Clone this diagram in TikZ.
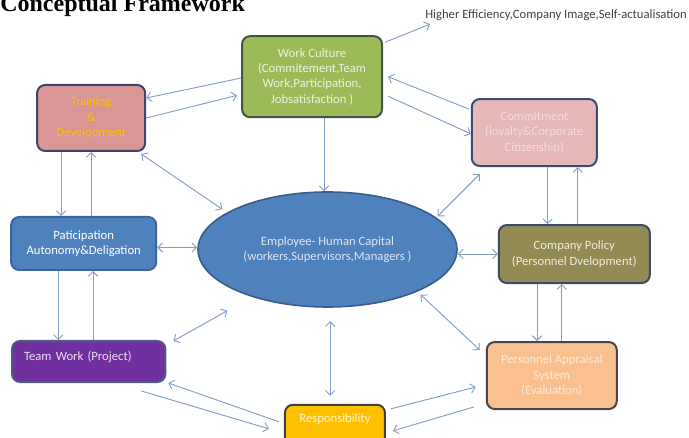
\documentclass[tikz,border=0pt]{standalone}
\usepackage{fontspec}
\setmainfont{Carlito}
\newfontfamily\headfont{Liberation Serif}
\usetikzlibrary{positioning,arrows.meta,shapes.geometric}

\definecolor{linkblue}{RGB}{128,158,200}
\definecolor{cultfill}{RGB}{155,187,89}
\definecolor{cultedge}{RGB}{66,86,62}
\definecolor{culttext}{RGB}{235,241,222}
\definecolor{trainfill}{RGB}{217,150,148}
\definecolor{trainedge}{RGB}{60,70,110}
\definecolor{traintext}{RGB}{255,192,0}
\definecolor{commitfill}{RGB}{230,185,184}
\definecolor{commitedge}{RGB}{60,75,115}
\definecolor{committext}{RGB}{242,220,219}
\definecolor{partfill}{RGB}{79,129,189}
\definecolor{partedge}{RGB}{60,100,160}
\definecolor{hubedge}{RGB}{56,93,138}
\definecolor{hubtext}{RGB}{220,230,242}
\definecolor{policyfill}{RGB}{148,138,84}
\definecolor{policyedge}{RGB}{60,75,105}
\definecolor{policytext}{RGB}{238,236,225}
\definecolor{teamfill}{RGB}{112,48,160}
\definecolor{teamedge}{RGB}{80,90,130}
\definecolor{teamtext}{RGB}{230,224,236}
\definecolor{appfill}{RGB}{250,192,144}
\definecolor{appedge}{RGB}{65,70,80}
\definecolor{apptext}{RGB}{253,233,217}
\definecolor{respfill}{RGB}{255,192,0}
\definecolor{respedge}{RGB}{65,65,65}
\definecolor{resptext}{RGB}{255,242,204}

\begin{document}
\begin{tikzpicture}[
    x=0.75pt, y=0.75pt,
    font=\fontsize{9.5pt}{11.6pt}\selectfont,
    barb/.tip={Straight Barb[length=3.5pt,width=7pt]},
    box/.style={rectangle, draw, line width=1.5pt, rounded corners=6pt, align=center, inner sep=2pt},
    hub/.style={ellipse, draw=hubedge, line width=1.2pt, fill=partfill, text=hubtext, align=center, inner sep=0pt},
    title/.style={font=\headfont\bfseries\fontsize{18pt}{20pt}\selectfont, inner sep=0pt},
    arrow/.style={-barb, draw=linkblue, line width=0.7pt},
    twoway/.style={arrow, barb-barb}
]
\useasboundingbox (0,0) rectangle (689,-438);

\node[title, anchor=base west] (ttl) at (0,-12) {Conceptual Framework};

% -------- Centre --------
\node[hub, minimum width=194.25pt, minimum height=86.25pt] (emp) at (327.5,-249.5) {
Employee- Human Capital \\
(workers,Supervisors,Managers )
};

\node[box, fill=cultfill, draw=cultedge, text=culttext, minimum width=105pt, minimum height=60.75pt,
      above=54.75pt of emp, xshift=-11.6pt] (wc) {
Work Culture \\
(Commitement,Team \\
Work,Participation, \\
Jobsatisfaction )
};

\node[inner sep=0pt, text=black!75, above right=10.5pt and 31.5pt of wc] (hi) {Higher Efficiency,Company Image,Self-actualisation};

% -------- Left --------
\node[box, fill=partfill, draw=partedge, text=white, minimum width=108.75pt, minimum height=39.75pt,
      left=30pt of emp, yshift=4.5pt] (par) {
Paticipation \\
Autonomy\&Deligation
};

\node[box, fill=trainfill, draw=trainedge, text=traintext, minimum width=81pt, minimum height=49.5pt,
      above=48pt of par, xshift=5.6pt] (trn) {
Training \\
\& \\
Development
};

\node[box, fill=teamfill, draw=teamedge, text=teamtext, text width=97pt, align=left, inner xsep=9pt,
      text height=7pt, text depth=8.5pt, minimum height=30.75pt,
      below=51.75pt of par, xshift=3.75pt] (tw) {Team Work (Project)};

% -------- Right --------
\node[box, fill=policyfill, draw=policyedge, text=policytext, minimum width=113.25pt, minimum height=43.5pt,
      right=30pt of emp, yshift=-3.4pt] (cp) {
Company Policy \\
(Personnel Dvelopment)
};

\node[box, fill=commitfill, draw=commitedge, text=committext, minimum width=93.75pt, minimum height=50.25pt,
      above=42.75pt of cp, xshift=-30pt] (com) {
Commitment \\
(loyalty\&Corporate \\
Citizenship)
};

\node[box, fill=appfill, draw=appedge, text=apptext, minimum width=97.5pt, minimum height=50.25pt,
      below=42.75pt of cp, xshift=-16.9pt] (pa) {
Personnel Appraisal \\
System \\
(Evaluation)
};

% -------- Bottom --------
\node[box, fill=respfill, draw=respedge, text=resptext, minimum width=75pt, minimum height=31.5pt,
      text height=7pt, text depth=11.5pt, below=72pt of emp, xshift=5.6pt] (res) {Responsibility};

% -------- Arrows --------
\draw[arrow] ([xshift=1.5pt,yshift=-5.25pt]wc.north east) -- ([xshift=3.75pt,yshift=-2.25pt]hi.south west);
\draw[arrow] ([yshift=-1pt]wc.west) -- ([yshift=15pt]trn.east);
\draw[arrow] (trn.east) -- ([xshift=-3pt,yshift=-14pt]wc.west);
\draw[arrow] ([xshift=-1.5pt,yshift=17.6pt]com.west) -- ([xshift=3.75pt]wc.east);
\draw[arrow] ([xshift=3.75pt,yshift=-14.6pt]wc.east) -- ([yshift=-1pt]com.west);
\draw[arrow] ([xshift=9pt]wc.south) -- ([xshift=9pt]wc.south |- emp.north);
\draw[twoway] ([xshift=-3.75pt,yshift=-1.5pt]trn.south east) -- ([xshift=-9.75pt,yshift=-0.75pt]emp.north west);
\draw[arrow] ([xshift=-22.5pt]trn.south) -- ([xshift=-22.5pt]trn.south |- par.north);
\draw[arrow] (trn.south |- par.north) -- (trn.south);
\draw[twoway] ([yshift=-3pt]par.east) -- ([yshift=-3pt]par.east -| emp.west);
\draw[arrow] ([xshift=-19pt]par.south) -- ([xshift=-19pt]par.south |- tw.north);
\draw[arrow] ([xshift=7pt]par.south |- tw.north) -- ([xshift=7pt]par.south);
\draw[twoway] ([xshift=5.25pt,yshift=-0.75pt]tw.north east) -- ([xshift=-6pt,yshift=-15pt]emp.south west);
\draw[twoway] ([xshift=13.5pt,yshift=-6pt]emp.north east) -- ([xshift=6.75pt,yshift=-5.25pt]com.south west);
\draw[arrow] ([xshift=10pt]com.south) -- ([xshift=10pt]com.south |- cp.north);
\draw[arrow] ([xshift=32.6pt]com.south |- cp.north) -- ([xshift=32.6pt]com.south);
\draw[twoway] (emp.east |- cp.west) -- (cp.west);
\draw[arrow] ([xshift=-28pt]cp.south) -- ([xshift=-28pt]cp.south |- pa.north);
\draw[arrow] ([xshift=-9.4pt]cp.south |- pa.north) -- ([xshift=-9.4pt]cp.south);
\draw[twoway] ([xshift=0.75pt,yshift=-3pt]emp.south east) -- ([xshift=-4.5pt,yshift=-6.75pt]pa.north west);
\draw[twoway, shorten <=10pt, shorten >=6pt] ([xshift=2pt]emp.south) -- ([xshift=2pt]emp.south |- res.north);
\draw[arrow] ([xshift=-3.75pt,yshift=3pt]res.west) -- ([xshift=1.5pt]tw.south east);
\draw[arrow] ([xshift=-18.75pt,yshift=-6pt]tw.south east) -- ([xshift=-11.25pt,yshift=-2.25pt]res.west);
\draw[arrow] ([xshift=3.75pt,yshift=-3.75pt]res.north east) -- ([xshift=-7.5pt,yshift=17.25pt]pa.south west);
\draw[arrow] ([xshift=-9pt,yshift=2.25pt]pa.south west) -- ([xshift=5.25pt,yshift=-3.75pt]res.east);

\end{tikzpicture}
\end{document}
